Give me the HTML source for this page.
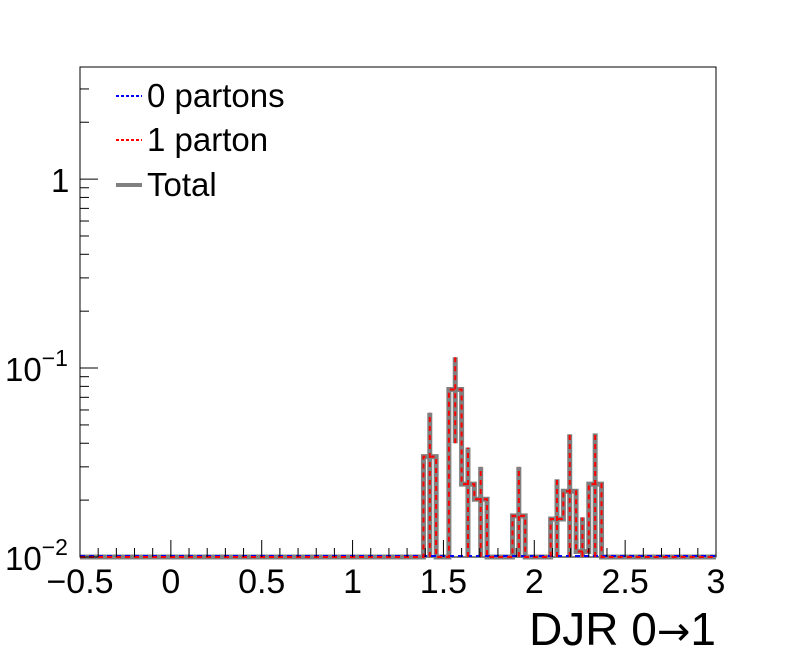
<!DOCTYPE html>
<html><head><meta charset="utf-8"><style>
html,body{margin:0;padding:0;background:#fff;}
svg{display:block;font-family:"Liberation Sans",Arial,sans-serif;}
</style></head><body>
<svg id="c" width="796" height="672" viewBox="0 0 796 672"></svg>
<script>
const binEdgesStart = -0.5;
const binWidth = 0.07;
const binIndex = [27, 29, 30, 31, 34, 37, 38, 39, 40];
const totalValues = [0.034, 0.077, 0.0243, 0.0202, 0.0165, 0.0159, 0.0223, 0.0107, 0.0243];
const errorTop = [0.058, 0.114, 0.038, 0.030, 0.030, 0.0258, 0.0446, 0.0162, 0.0451];
const errorBottom = [0.01, 0.040, 0.01, 0.01, 0.01, 0.01, 0.01, 0.01, 0.01];
const xTickLabels = ["\u22120.5","0","0.5","1","1.5","2","2.5","3"];
const xTickValues = [-0.5,0,0.5,1,1.5,2,2.5,3];

const NS="http://www.w3.org/2000/svg";
const svg=document.getElementById('c');
const L=80,R=716,T=67,B=557, xmin=-0.5,xmax=3, ymin=-2, ymax=Math.log10(3.92);
const X=v=>L+(v-xmin)/(xmax-xmin)*(R-L);
const Y=v=>B-(Math.log10(Math.max(v,0.01))-ymin)/(ymax-ymin)*(B-T);
function mk(tag,attrs,name){const e=document.createElementNS(NS,tag);for(const k in attrs)e.setAttribute(k,attrs[k]);


svg.appendChild(e);return e;}

mk('rect',{x:L,y:T,width:R-L,height:B-T,fill:'none',stroke:'#000','stroke-width':1},'plot-frame');

const nb=50; const vals=new Array(nb).fill(0.01);
binIndex.forEach((b,i)=>vals[b]=totalValues[i]);
let d=`M${X(xmin)},${Y(vals[0])}`;
for(let i=0;i<nb;i++){const x0=X(binEdgesStart+i*binWidth),x1=X(binEdgesStart+(i+1)*binWidth);d+=` L${x0},${Y(vals[i])} L${x1},${Y(vals[i])}`;}
let de='';
binIndex.forEach((b,i)=>{const xc=X(binEdgesStart+(b+0.5)*binWidth);de+=` M${xc},${Y(errorBottom[i])} L${xc},${Y(errorTop[i])}`;});
mk('path',{d:d,fill:'none',stroke:'#808080','stroke-width':5},'total-histogram');
mk('path',{d:de,fill:'none',stroke:'#808080','stroke-width':5},'total-error-bars');
mk('line',{x1:L,y1:B-1,x2:R,y2:B-1,stroke:'#0000ff','stroke-width':2,'stroke-dasharray':'5,4'},'zero-partons-histogram');
mk('path',{d:d+de,fill:'none',stroke:'#ff0000','stroke-width':2,'stroke-dasharray':'5,4'},'one-parton-histogram');

for(let k=0;k<=35;k++){const v=-0.5+k*0.1;const x=X(v);const major=(k%5===0);
mk('line',{x1:x,y1:B,x2:x,y2:B-(major?17:9),stroke:'#000','stroke-width':1},'x-tick');}
xTickValues.forEach((v,i)=>{const t=mk('text',{x:X(v),y:593,'text-anchor':'middle','font-size':34},'x-tick-label');t.textContent=xTickLabels[i];});
for(let e=-2;e<=0;e++){for(let m=1;m<=9;m++){const v=m*Math.pow(10,e);if(Math.log10(v)>ymax)break;const y=Y(v);
mk('line',{x1:L,y1:y,x2:L+(m===1?18:9),y2:y,stroke:'#000','stroke-width':1},'y-tick');}}
const yl=[[0.01,'10','−2'],[0.1,'10','−1']];
yl.forEach(([v,b,s])=>{const t=mk('text',{x:5,y:Y(v)+13,'font-size':33},'y-tick-label');t.textContent=b;
const ts=document.createElementNS(NS,'tspan');ts.setAttribute('dy','-15');ts.setAttribute('font-size','23');ts.textContent=s;t.appendChild(ts);});
{const t=mk('text',{x:51,y:Y(1)+13,'font-size':33},'y-tick-label');t.textContent='1';}
{const t=mk('text',{x:716,y:645,'text-anchor':'end','font-size':46},'x-axis-title');t.innerHTML='DJR 0<tspan font-family="DejaVu Sans" font-size="40">\u2192</tspan>1';}
mk('line',{x1:116,y1:96,x2:142,y2:96,stroke:'#0000ff','stroke-width':2,'stroke-dasharray':'3,2'},'legend-zero-partons-swatch');
mk('line',{x1:116,y1:140,x2:142,y2:140,stroke:'#ff0000','stroke-width':2,'stroke-dasharray':'3,2'},'legend-one-parton-swatch');
mk('line',{x1:116,y1:185,x2:142,y2:185,stroke:'#808080','stroke-width':4},'legend-total-swatch');
[['0 partons',107,'legend-zero-partons'],['1 parton',151,'legend-one-parton'],['Total',196,'legend-total']].forEach(([s,y,n])=>{const t=mk('text',{x:147,y:y,'font-size':33},n);t.textContent=s;});
</script>
</body></html>
